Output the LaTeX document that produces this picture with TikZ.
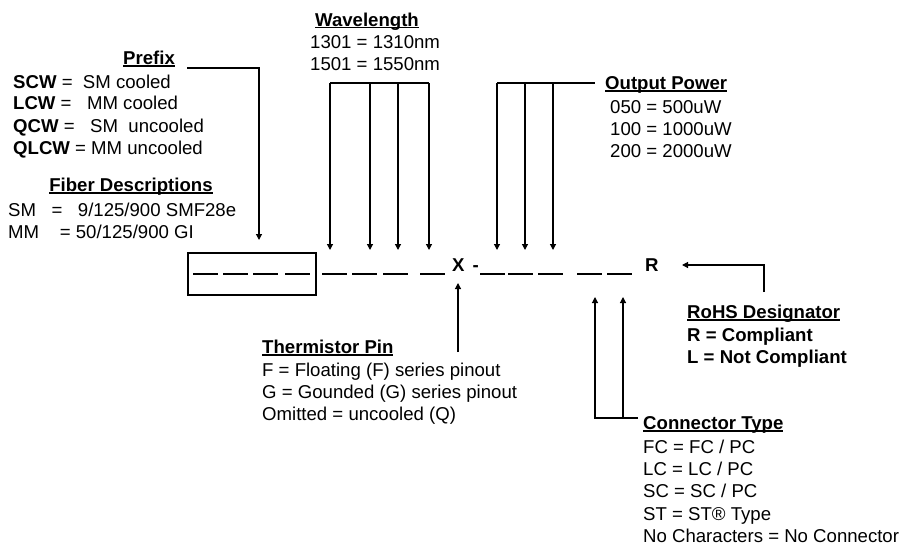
\documentclass[tikz,border=0pt]{standalone}
\usepackage{fontspec}
\setmainfont{Liberation Sans}
\usetikzlibrary{arrows.meta}

% bold heading with a rule just under the baseline
\newcommand\headline[1]{\setbox0\hbox{\textbf{#1}}\rlap{\rule[-2.5pt]{\wd0}{1.3pt}}\box0}

\begin{document}
\begin{tikzpicture}[x=1pt, y=-1pt,
	every node/.style={inner sep=0pt, font=\fontsize{18.6}{22}\selectfont},
	txt/.style={anchor=base west},
	head/.style={anchor=base},
	lead/.style={line width=1.2pt, -{Triangle[length=6pt,width=6pt]}},
	slot/.style={line width=2.2pt}]
	\useasboundingbox (0,0) rectangle (905,546);
	
	% 1. 左侧：前缀与光纤说明
	\node[head] (prefix) at (149,64) {\headline{Prefix}};
	\node[txt] (scw) at (13,88) {\textbf{SCW} =\ \ SM cooled};
	\node[txt] (lcw) at (13,109) {\textbf{LCW} =\ \ \ MM cooled};
	\node[txt] (qcw) at (13,132) {\textbf{QCW} =\ \ \ SM\ \ uncooled};
	\node[txt] (qlcw) at (13,154) {\textbf{QLCW} = MM uncooled};
	\node[head] (fiber) at (131,191) {\headline{Fiber Descriptions}};
	\node[txt] (sm) at (8,216) {SM\ \ \ =\ \ \ 9/125/900 SMF28e};
	\node[txt] (mm) at (8,238) {MM\ \ \ \ = 50/125/900 GI};
	
	% 2. 上方：波长与输出功率
	\node[head] (wave) at (367,26) {\headline{Wavelength}};
	\node[txt] (w1310) at (310,48) {1301 = 1310nm};
	\node[txt] (w1550) at (310,70) {1501 = 1550nm};
	\node[txt] (power) at (605,89) {\headline{Output Power}};
	\node[txt] (p050) at (610,113) {050 = 500uW};
	\node[txt] (p100) at (610,135) {100 = 1000uW};
	\node[txt] (p200) at (610,157) {200 = 2000uW};
	
	% 3. 下方：热敏电阻、RoHS、连接器
	\node[txt] (therm) at (262,353) {\headline{Thermistor Pin}};
	\node[txt] (thf) at (262,376) {F = Floating (F) series pinout};
	\node[txt] (thg) at (262,398) {G = Gounded (G) series pinout};
	\node[txt] (tho) at (262,420) {Omitted = uncooled (Q)};
	\node[txt] (rohshead) at (687,318) {\headline{RoHS Designator}};
	\node[txt] (rcomp) at (687,341) {\textbf{R = Compliant}};
	\node[txt] (lcomp) at (687,363) {\textbf{L = Not Compliant}};
	\node[txt] (conn) at (643,429) {\headline{Connector Type}};
	\node[txt] (cfc) at (643,453) {FC = FC / PC};
	\node[txt] (clc) at (643,475) {LC = LC / PC};
	\node[txt] (csc) at (643,497) {SC = SC / PC};
	\node[txt] (cst) at (643,520) {ST = ST® Type};
	\node[txt] (cno) at (643,542) {No Characters = No Connector};
	
	% 4. 型号行
	\node[draw, line width=1.2pt, minimum width=128pt, minimum height=42pt] (box) at (252,274) {};
	\foreach \a in {193,223,253,285,322,352,383,420,480,508,538,577,607}
		\draw[slot] (\a,274) -- ++(25,0);
	\node[txt] (xpin) at (452,271) {\textbf{X\hspace{8pt}-}};
	\node[txt] (rohs) at (645,271) {\textbf{R}};
	
	% 5. 箭头
	\coordinate (pfx0) at (187,68);
	\coordinate (pfx1) at (259,240);
	\draw[lead] (pfx0) -| (pfx1);
	
	\coordinate (wbar) at (0,83);
	\coordinate (w1) at (330,250);
	\coordinate (w2) at (370,250);
	\coordinate (w3) at (398,250);
	\coordinate (w4) at (429,250);
	\draw[line width=1.2pt] (w1 |- wbar) -- (w4 |- wbar);
	\foreach \k in {1,...,4}
		\draw[lead] (w\k |- wbar) -- (w\k);
	
	\coordinate (obar) at (595,83);
	\coordinate (o1) at (497,250);
	\coordinate (o2) at (525,250);
	\coordinate (o3) at (553,250);
	\draw[line width=1.2pt] (o1 |- obar) -- (obar);
	\foreach \k in {1,...,3}
		\draw[lead] (o\k |- obar) -- (o\k);
	
	\coordinate (tpin0) at (458,352);
	\coordinate (tpin1) at (458,283);
	\draw[lead] (tpin0) -- (tpin1);
	
	\coordinate (rbend) at (764,292);
	\coordinate (rtip) at (682,265);
	\draw[lead] (rbend) |- (rtip);
	
	\coordinate (cbar) at (638,418);
	\coordinate (c1) at (595,297);
	\coordinate (c2) at (623,297);
	\draw[lead] (cbar) -| (c1);
	\draw[lead] (c2 |- cbar) -- (c2);
	
\end{tikzpicture}
\end{document}
